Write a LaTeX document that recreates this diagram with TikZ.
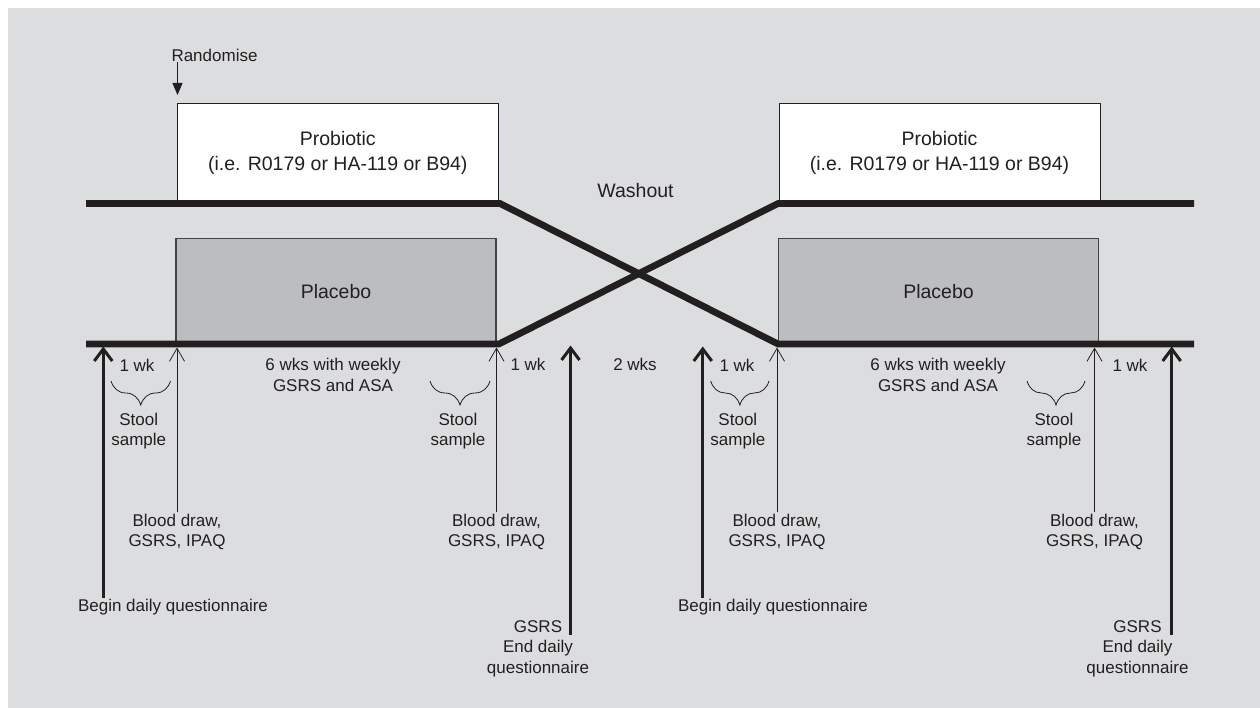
\documentclass[tikz,border=0pt]{standalone}
\usepackage{fontspec}
\setmainfont{Liberation Sans}
\usetikzlibrary{arrows.meta,decorations.pathreplacing,positioning}

\definecolor{panelgray}{RGB}{220,221,223}
\definecolor{placebogray}{RGB}{188,189,193}
\definecolor{ink}{RGB}{35,31,32}

\tikzset{
    lbl/.style={font=\fontsize{17}{20.5}\selectfont, text=ink, align=center, inner sep=1pt},
    biglbl/.style={font=\fontsize{19.5}{25}\selectfont, text=ink, align=center},
    probox/.style={biglbl, draw=ink, line width=1pt, fill=white, inner sep=0pt,
        minimum width=321pt, minimum height=100pt},
    plabox/.style={biglbl, draw=ink!85, line width=1.2pt, fill=placebogray, inner sep=0pt,
        minimum width=320pt, minimum height=105.5pt},
    arm/.style={line width=6.7pt, draw=ink},
    thinarrow/.style={line width=0.8pt, draw=ink, -{Straight Barb[length=13pt,width=15pt]}},
    bigarrow/.style={line width=3pt, draw=ink, -{Straight Barb[length=12pt,width=18pt]}},
    stoolbrace/.style={draw=ink, line width=0.8pt, decorate,
        decoration={brace, mirror, amplitude=24pt}}
}

\begin{document}
\begin{tikzpicture}[x=1pt, y=-1pt]
    % Panel
    \useasboundingbox (0,0) rectangle (1260,708);
    \fill[panelgray] (8,8) rectangle (1260,708);

    % Treatment boxes
    \node[probox] (pro1) at (337.8,153.4) {Probiotic\\(i.e. R0179 or HA-119 or B94)};
    \node[probox] (pro2) at (939.5,153.4) {Probiotic\\(i.e. R0179 or HA-119 or B94)};
    \node[plabox] (pla1) at (336,291.2) {Placebo};
    \node[plabox] (pla2) at (938.5,291.2) {Placebo};
    \node[biglbl] (wash) at (635.5,191) {Washout};

    % Arms crossing over
    \coordinate (a1) at (86,203.5);
    \coordinate (a2) at (500,203.5);
    \coordinate (a3) at (778,344);
    \coordinate (a4) at (1194,344);
    \coordinate (b1) at (86,344);
    \coordinate (b2) at (499,344);
    \coordinate (b3) at (778,203.5);
    \coordinate (b4) at (1194,203.5);
    \draw[arm] (a1) -- (a2) -- (a3) -- (a4);
    \draw[arm] (b1) -- (b2) -- (b3) -- (b4);

    % Randomise
    \node[lbl] (rand) at (214.5,55) {Randomise};
    \coordinate (randtip) at (177.5,95);
    \draw[ink, line width=0.8pt, -{Triangle[length=12pt,width=10pt]}] (randtip |- rand.south) -- (randtip);

    % Durations
    \node[lbl] (wk1) at (137,365) {1 wk};
    \node[lbl] (six1) at (333,375) {6 wks with weekly\\GSRS and ASA};
    \node[lbl] (wk2) at (528,364) {1 wk};
    \node[lbl] (wash2) at (635,364) {2 wks};
    \node[lbl] (wk3) at (737,365) {1 wk};
    \node[lbl] (six2) at (938,375) {6 wks with weekly\\GSRS and ASA};
    \node[lbl] (wk4) at (1130,365) {1 wk};

    % Stool samples
    \foreach \a/\b/\n in {111/170.5/1, 430/490/2, 710.7/769/3, 1027/1085/4} {
        \draw[stoolbrace] (\a,381) -- (\b,381);
        \node[lbl] (stool\n) at ({(\a+\b)/2-2},431) {Stool\\sample};
    }

    % Blood draws
    \foreach \x/\n in {177/1, 496.5/2, 777/3, 1094.5/4} {
        \node[lbl] (blood\n) at (\x,531.7) {Blood draw,\\GSRS, IPAQ};
        \coordinate (bt\n) at (\x,347.5);
        \draw[thinarrow] (blood\n.north) -- (bt\n);
    }

    % Daily questionnaire
    \node[lbl] (begin1) at (173,607) {Begin daily questionnaire};
    \node[lbl] (begin2) at (773,607) {Begin daily questionnaire};
    \node[lbl] (end1) at (538,648.4) {GSRS\\End daily\\questionnaire};
    \node[lbl] (end2) at (1137.5,648.4) {GSRS\\End daily\\questionnaire};
    \coordinate (bq1) at (103.3,346.5);
    \coordinate (bq2) at (702.8,346.5);
    \coordinate (eq1) at (570.5,345.5);
    \coordinate (eq2) at (1171.7,346.5);
    \coordinate (ef1) at (570.5,635);
    \coordinate (ef2) at (1171.7,635);
    \draw[bigarrow] (bq1 |- begin1.north) -- (bq1);
    \draw[bigarrow] (bq2 |- begin2.north) -- (bq2);
    \draw[bigarrow] (ef1) -- (eq1);
    \draw[bigarrow] (ef2) -- (eq2);
\end{tikzpicture}
\end{document}
